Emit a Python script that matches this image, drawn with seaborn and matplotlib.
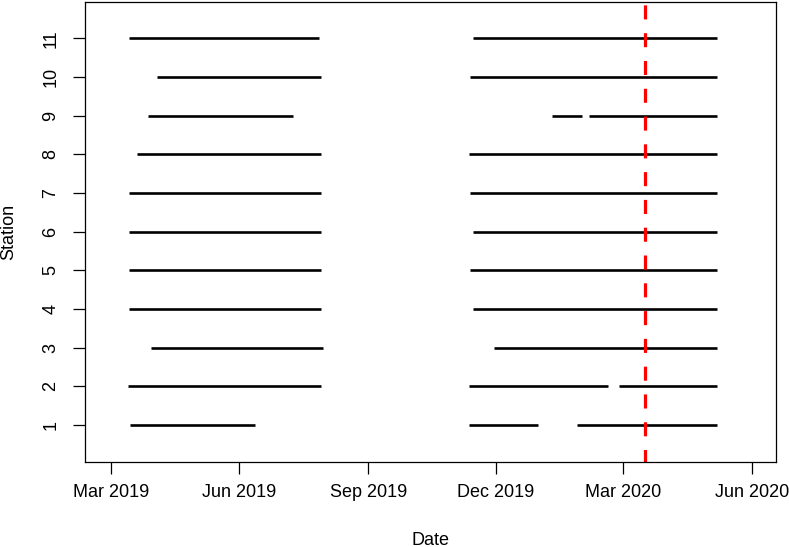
import numpy as np
import pandas as pd
import matplotlib
matplotlib.use("Agg")
import matplotlib.pyplot as plt
import seaborn as sns

# ---- data: recording periods per station ----
station = [11, 10, 9, 8, 7, 6, 5, 4, 3, 2, 1,
           11, 10, 9, 9, 8, 7, 6, 5, 4, 3, 2, 2, 1, 1]
start = ["2019-03-14", "2019-04-03", "2019-03-28", "2019-03-20", "2019-03-14",
         "2019-03-14", "2019-03-14", "2019-03-14", "2019-03-30", "2019-03-13",
         "2019-03-15",
         "2019-11-15", "2019-11-13", "2020-01-10", "2020-02-06", "2019-11-12",
         "2019-11-13", "2019-11-15", "2019-11-13", "2019-11-15", "2019-11-30",
         "2019-11-12", "2020-02-27", "2019-11-12", "2020-01-28"]
end = ["2019-07-28", "2019-07-29", "2019-07-09", "2019-07-29", "2019-07-29",
       "2019-07-29", "2019-07-29", "2019-07-29", "2019-07-31", "2019-07-29",
       "2019-06-12",
       "2020-05-07", "2020-05-07", "2020-02-01", "2020-05-07", "2020-05-07",
       "2020-05-07", "2020-05-07", "2020-05-07", "2020-05-07", "2020-05-07",
       "2020-02-19", "2020-05-07", "2019-12-31", "2020-05-07"]
tick_dates = ["2019-03-01", "2019-06-01", "2019-09-01", "2019-12-01",
              "2020-03-01", "2020-06-01"]
tick_labels = ["Mar 2019", "Jun 2019", "Sep 2019", "Dec 2019",
               "Mar 2020", "Jun 2020"]
station_ticks = list(range(1, 12))
event_date = "2020-03-17"

rows = []
for i, (s, a, b) in enumerate(zip(station, start, end)):
    rows.append({"seg": i, "station": s, "date": a})
    rows.append({"seg": i, "station": s, "date": b})
df = pd.DataFrame(rows)
df["date"] = pd.to_datetime(df["date"])

sns.set_theme(style="white")
plt.rcParams["font.family"] = ["Liberation Sans", "DejaVu Sans"]
plt.rcParams["text.color"] = "black"
plt.rcParams["axes.labelcolor"] = "black"
plt.rcParams["xtick.color"] = "black"
plt.rcParams["ytick.color"] = "black"

fig = plt.figure(figsize=(7.89, 5.47), dpi=100)
ax = fig.add_axes([0.10811, 0.15594, 0.87541, 0.84095])

sns.lineplot(data=df, x="date", y="station", units="seg", estimator=None,
             color="black", lw=1.9, ax=ax, legend=False, sort=False,
             solid_capstyle="butt")

ax.axvline(pd.Timestamp(event_date), color="#ff0000", lw=2.3,
           linestyle=(0.5, (4.4, 4.3)))

origin = pd.Timestamp("2019-03-01")
ax.set_xlim(origin - pd.Timedelta(days=18.15), origin + pd.Timedelta(days=475.3))
ax.set_ylim(0.05, 11.95)

ax.set_xticks(pd.to_datetime(tick_dates))
ax.set_xticklabels(tick_labels, fontsize=13, color="black")
ax.set_yticks(station_ticks)
ax.set_yticklabels([str(v) for v in station_ticks], rotation=90, va="center",
                   fontsize=13, color="black")

ax.tick_params(axis="x", direction="out", length=8.4, width=0.9, color="black",
               pad=8.0, bottom=True)
ax.tick_params(axis="y", direction="out", length=8.6, width=0.9, color="black",
               pad=10.0, left=True)

for sp in ax.spines.values():
    sp.set_visible(True)
    sp.set_color("black")
    sp.set_linewidth(0.9)

ax.set_xlabel("Date", fontsize=13, va="center", color="black")
ax.set_ylabel("Station", fontsize=13, va="center", color="black")
ax.xaxis.set_label_coords(0.5, -(540 - 461.7) / 460.0)
ax.yaxis.set_label_coords((9.0 - 85.3) / 690.7, 0.5)

fig.savefig("out.png", dpi=100)
